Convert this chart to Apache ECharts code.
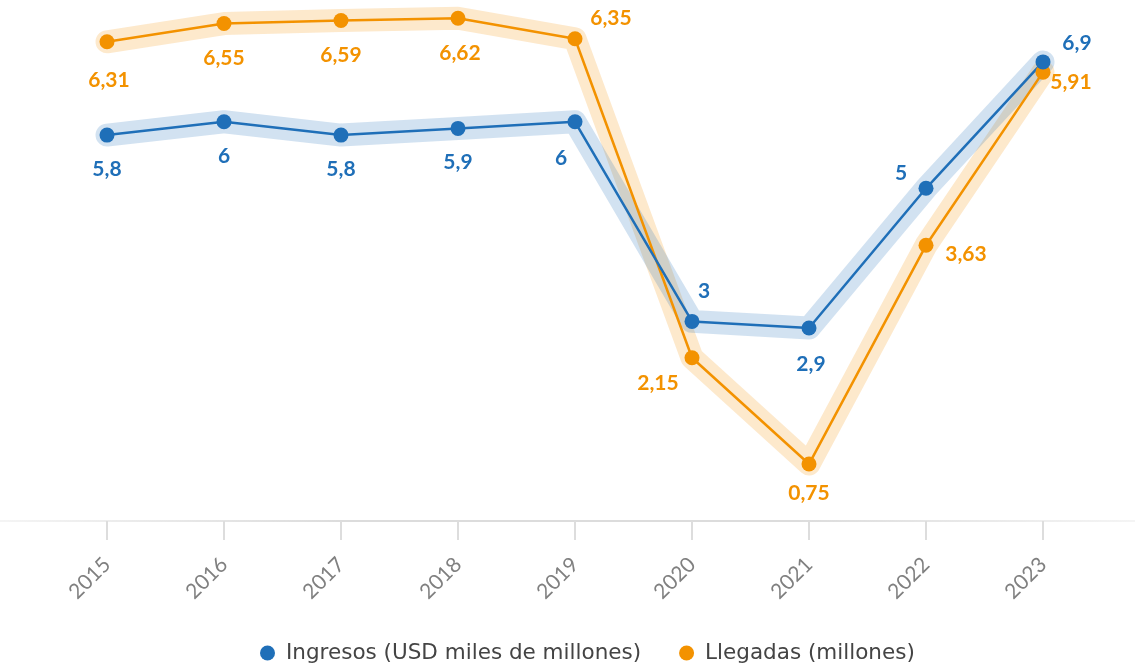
<!DOCTYPE html>
<html>
<head>
<meta charset="utf-8">
<script src="https://cdn.jsdelivr.net/npm/echarts@6/dist/echarts.min.js"></script>
<style>html,body{margin:0;padding:0;background:#fff;}#c{width:1135px;height:664px;}</style>
</head>
<body>
<div id="c"></div>
<script>
const years = ['2015','2016','2017','2018','2019','2020','2021','2022','2023'];
const ingresos = [5.8, 6, 5.8, 5.9, 6, 3, 2.9, 5, 6.9];
const llegadas = [6.31, 6.55, 6.59, 6.62, 6.35, 2.15, 0.75, 3.63, 5.91];
const nameIngresos = 'Ingresos (USD miles de millones)';
const nameLlegadas = 'Llegadas (millones)';

const blue = '#1f6fb8';
const orange = '#f39200';
const ingresosOffsets = [[0,34],[0,34],[0,34],[0,34],[-14,36],[12,-30],[2,36],[-25,-15],[34,-19]];
const llegadasOffsets = [[2,38],[0,35],[0,35],[2,35],[36,-20],[-34,26],[0,29],[40,9],[28,10]];

const fmt = v => String(v).replace('.', ',');

function mainSeries(name, data, color, yIdx, offsets) {
  return {
    name: name, type: 'line', yAxisIndex: yIdx, z: 3,
    data: data.map((v, i) => ({value: v, label: {offset: offsets[i]}})),
    symbol: 'circle', symbolSize: 15,
    lineStyle: {color: color, width: 2.5},
    itemStyle: {color: color},
    label: {show: true, position: 'inside', color: color, fontFamily: 'Lato',
            fontWeight: 'bold', fontSize: 21, formatter: p => fmt(p.value)},
    emphasis: {disabled: true}, animation: false, clip: false
  };
}
function bandSeries(name, data, color, yIdx) {
  return {
    name: name, type: 'line', yAxisIndex: yIdx, z: 1, silent: true,
    data: data, symbol: 'none',
    lineStyle: {color: color, width: 23, opacity: 0.2, cap: 'round', join: 'round'},
    emphasis: {disabled: true}, animation: false, clip: false, legendHoverLink: false
  };
}

const chart = echarts.init(document.getElementById('c'), null, {renderer: 'canvas'});
chart.setOption({
  backgroundColor: '#fff',
  animation: false,
  textStyle: {fontFamily: 'Lato'},
  grid: {left: 48.5, right: 33.5, top: 0, bottom: 143},
  legend: {
    data: [nameIngresos, nameLlegadas], top: 637, left: 255,
    icon: 'circle', itemWidth: 15, itemHeight: 15, itemGap: 38,
    textStyle: {fontSize: 21.5, color: '#444', fontFamily: 'DejaVu Sans', padding: [0, 0, 0, 6]}
  },
  xAxis: {
    type: 'category', data: years, boundaryGap: true,
    axisLine: {show: false},
    axisTick: {show: true, alignWithLabel: true, length: 19, lineStyle: {color: '#ddd', width: 2}},
    axisLabel: {rotate: 45, color: '#808080', fontSize: 21, margin: 40, fontFamily: 'Lato'}
  },
  yAxis: [
    {type: 'value', min: 0, max: 7.83, show: false, splitLine: {show: false}},
    {type: 'value', min: 0, max: 6.86, show: false, splitLine: {show: false}}
  ],
  graphic: [{
    type: 'line', shape: {x1: 0, y1: 521, x2: 1135, y2: 521}, z: 0,
    style: {lineWidth: 2, stroke: new echarts.graphic.LinearGradient(0, 0, 1, 0, [
      {offset: 0, color: 'rgba(220,220,220,0.3)'},
      {offset: 0.3, color: 'rgba(220,220,220,1)'},
      {offset: 0.7, color: 'rgba(220,220,220,1)'},
      {offset: 1, color: 'rgba(220,220,220,0.3)'}
    ])}
  }],
  series: [
    bandSeries('bandL', llegadas, orange, 1),
    bandSeries('bandI', ingresos, blue, 0),
    mainSeries(nameLlegadas, llegadas, orange, 1, llegadasOffsets),
    mainSeries(nameIngresos, ingresos, blue, 0, ingresosOffsets)
  ]
});
</script>
</body>
</html>
